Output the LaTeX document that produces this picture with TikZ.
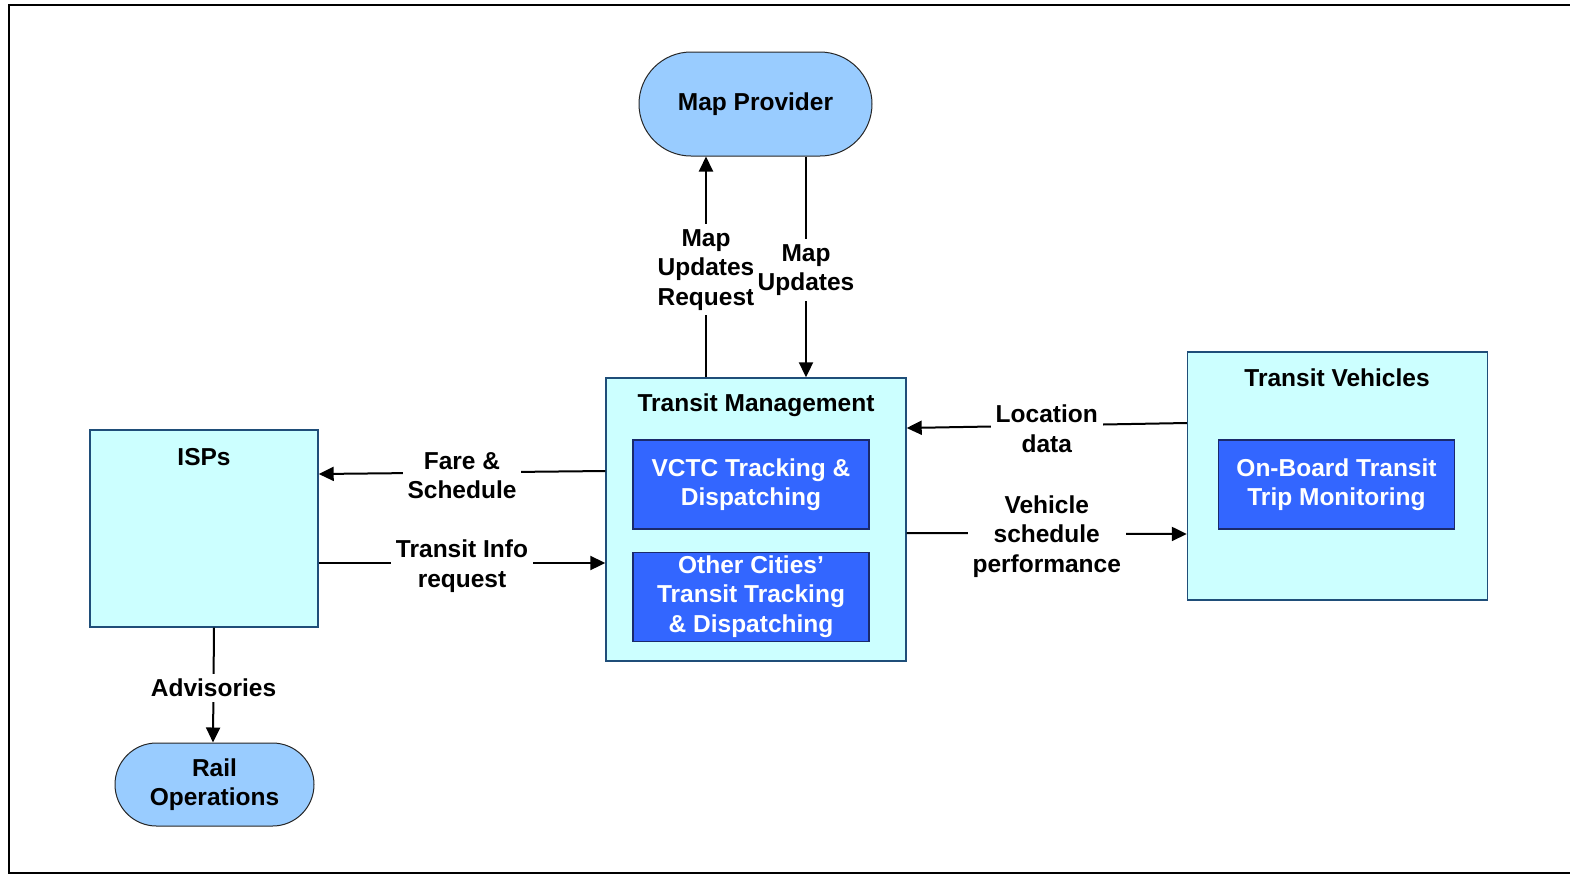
\documentclass[tikz,border=0pt]{standalone}
\usepackage{fontspec}
\setmainfont{Liberation Sans}
\usetikzlibrary{arrows.meta,positioning,shapes.misc}
\definecolor{edge}{HTML}{1F4E79}
\definecolor{navy}{HTML}{1A2A6C}
\definecolor{paleblue}{HTML}{99CCFF}
\definecolor{palecyan}{HTML}{CCFFFF}
\definecolor{royal}{HTML}{3366FF}
\newcommand{\lbl}{\fontsize{12.25}{14.75}\selectfont\bfseries}
\tikzset{
  ext/.style={rounded rectangle,draw=black!85,line width=0.5pt,fill=paleblue,
    align=center,font=\lbl,inner sep=0pt},
  sys/.style={draw=edge,line width=0.7pt,fill=palecyan,inner sep=0pt},
  sub/.style={draw=navy,line width=0.6pt,fill=royal,text=white,align=center,
    font=\lbl,inner sep=0pt,minimum width=118pt,minimum height=44.5pt},
  ttl/.style={font=\lbl,inner sep=0pt,yshift=-1.5pt},
  flow/.style={-{Triangle[length=7.5pt,width=7pt]},line width=1pt},
  elabel/.style={font=\lbl,fill=white,align=center,inner sep=2.5pt,yshift=-1.5pt},
}
\begin{document}
\begin{tikzpicture}[x=0.5pt,y=-0.5pt]
  \useasboundingbox (0,0) rectangle (1570,875);
  \draw[line width=0.7pt] (1600,5) -- (9,5) -- (9,873) -- (1600,873);
  % --- external terminators ---
  \node[ext,minimum width=116.5pt,minimum height=52pt] (MP) at (755.5,104) {Map Provider};
  \node[ext,minimum width=99.5pt,minimum height=41.5pt] (Rail) at (214.5,784.5) {Rail\\Operations};
  % --- subsystems ---
  \node[sys,minimum width=114pt,minimum height=98.5pt] (ISP) at (204,528.5) {};
  \node[ttl] (ISPt) at (204,454) {ISPs};
  \node[sys,minimum width=150pt,minimum height=141.5pt] (TM) at (756,519.5) {};
  \node[ttl] (TMt) at (756,402) {Transit Management};
  \node[sub] (VCTC) at (751,484.5) {VCTC Tracking \&\\Dispatching};
  \node[sub,below=11pt of VCTC] (OC) {Other Cities'\\Transit Tracking\\\& Dispatching};
  \node[sys,minimum width=150pt,minimum height=124pt] (TV) at (1337.5,476) {};
  \node[ttl] (TVt) at (1337,375) {Transit Vehicles};
  \node[sub] (OBT) at (1336.5,484.5) {On-Board Transit\\Trip Monitoring};
  % --- flows ---
  \draw[flow] ([xshift=-25pt]TM.north) -- node[elabel]{Map\\Updates\\Request} ([xshift=-24.75pt]MP.south);
  \draw[flow] ([xshift=25.25pt]MP.south) -- node[elabel]{Map\\Updates} ([xshift=25pt]TM.north);
  \draw[flow] ([yshift=24.25pt]TM.west) -- node[elabel]{Fare \&\\Schedule} ([yshift=27.25pt]ISP.east);
  \draw[flow] ([yshift=-17.25pt]ISP.east) -- node[elabel]{Transit Info\\request} ([yshift=-21.75pt]TM.west);
  \draw[flow] ([yshift=26.5pt]TV.west) -- node[elabel]{Location\\data} ([yshift=45.75pt]TM.east);
  \draw[flow] ([yshift=-6.75pt]TM.east) -- node[elabel]{Vehicle\\schedule\\performance} ([yshift=-29pt]TV.west);
  \draw[flow] ([xshift=5pt]ISP.south) -- node[elabel]{Advisories} ([xshift=-0.75pt]Rail.north);
\end{tikzpicture}
\end{document}
